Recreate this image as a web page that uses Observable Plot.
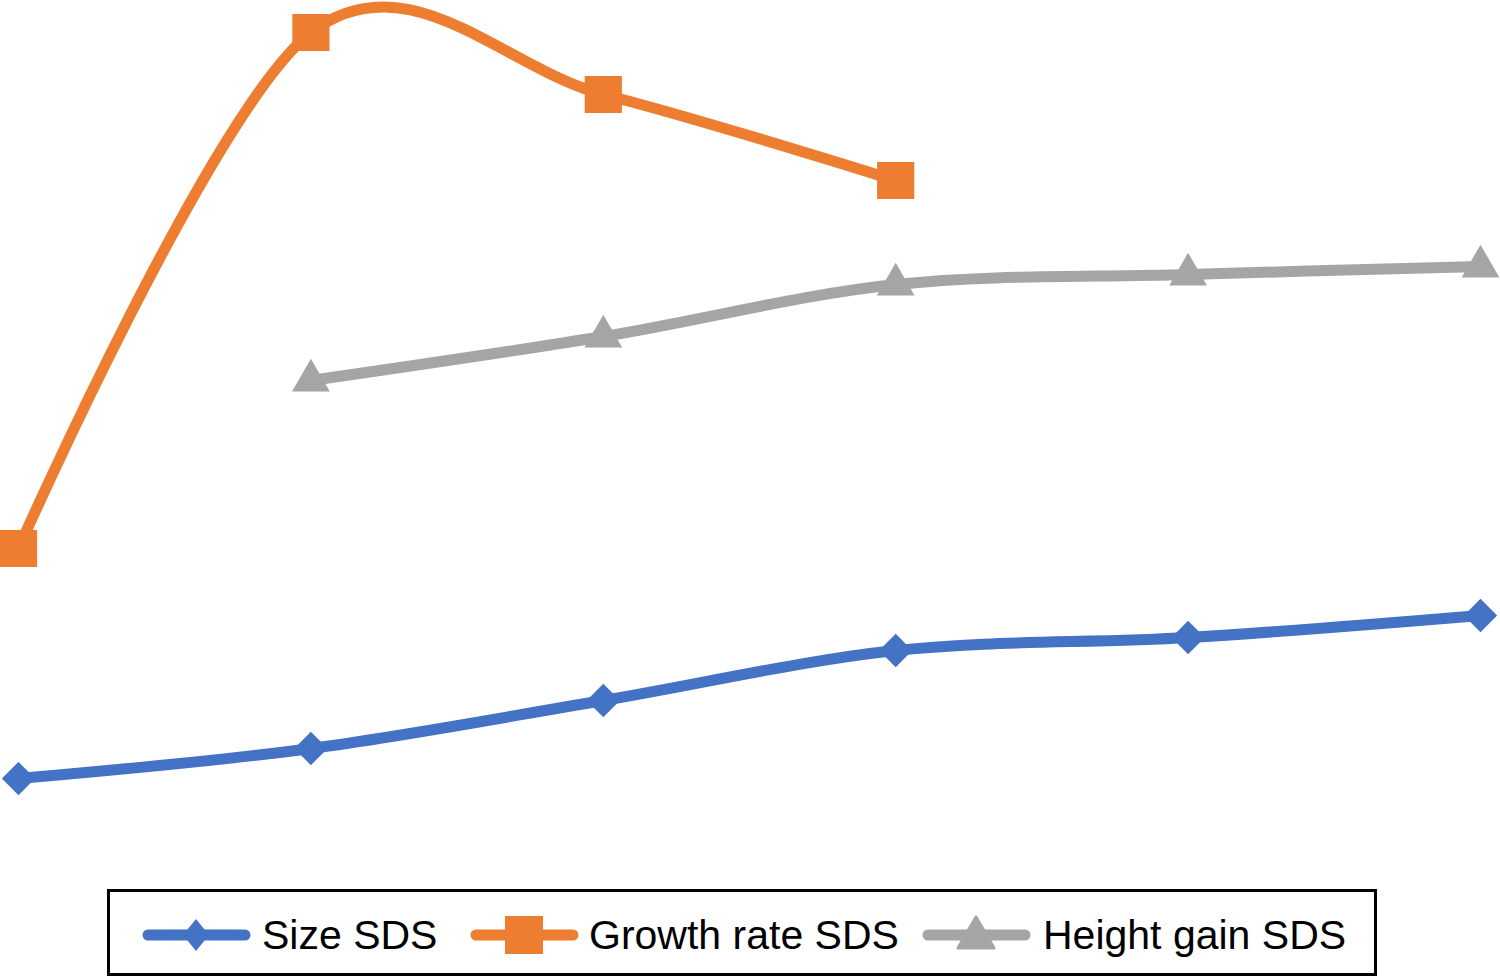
<!DOCTYPE html>
<html>
<head>
<meta charset="utf-8">
<script src="https://cdn.jsdelivr.net/npm/d3@7"></script>
<script src="https://cdn.jsdelivr.net/npm/@observablehq/plot@0.6"></script>
<style>
  body { margin: 0; background: #fff; font-family: "Liberation Sans", Arial, sans-serif; }
  #wrap { position: relative; width: 1500px; height: 976px; }
  #chart { position: absolute; left: 0; top: 0; }
  #legend { position: absolute; left: 107px; top: 889px; width: 1270px; height: 87px; border: 3px solid #000; box-sizing: border-box; }
  .item { position: absolute; top: 0; height: 81px; }
  .item svg { position: absolute; top: 0; }
  .item span { position: absolute; top: 20px; font-size: 41px; line-height: 46px; white-space: nowrap; color: #000; }
</style>
</head>
<body>
<div id="wrap">
  <div id="chart"></div>
  <div id="legend"></div>
</div>
<script>
// time points (equally spaced visits)
const steps = [0, 1, 2, 3, 4, 5];

// SDS values
const sizeSDS = [-2.89, -2.74, -2.50, -2.25, -2.185, -2.075];
const growthSDS = [-1.74, 0.84, 0.53, 0.10, null, null];
const gainSDS = [null, -0.90, -0.68, -0.42, -0.37, -0.33];

const seriesNames = ["Size SDS", "Growth rate SDS", "Height gain SDS"];
const seriesColors = ["#4472C4", "#ED7D31", "#A5A5A5"];
const seriesSymbols = ["diamond2", "square", "triangle"];
const seriesValues = [sizeSDS, growthSDS, gainSDS];

const rows = [];
seriesNames.forEach((name, i) => {
  steps.forEach((s, j) => {
    if (seriesValues[i][j] != null) rows.push({ series: name, step: s, value: seriesValues[i][j] });
  });
});

const markR = { "Size SDS": 15, "Growth rate SDS": 21, "Height gain SDS": 14 };

const marks = [];
seriesNames.forEach((name, i) => {
  const d = rows.filter((r) => r.series === name);
  marks.push(
    Plot.line(d, {
      x: "step",
      y: "value",
      stroke: seriesColors[i],
      strokeWidth: 11,
      curve: "cardinal",
      strokeLinejoin: "round",
      strokeLinecap: "round",
    })
  );
});
seriesNames.forEach((name, i) => {
  const d = rows.filter((r) => r.series === name);
  marks.push(
    Plot.dot(d, {
      x: "step",
      y: "value",
      symbol: () => seriesSymbols[i],
      r: markR[name],
      fill: seriesColors[i],
      stroke: "none",
    })
  );
});

const plot = Plot.plot({
  width: 1500,
  height: 880,
  marginLeft: 18,
  marginRight: 20,
  marginTop: 0,
  marginBottom: 0,
  x: { domain: [0, 5], axis: null },
  y: { domain: [-3.4, 1], axis: null },
  symbol: { type: "identity" },
  marks,
});
document.querySelector("#chart").append(plot);

// legend
const legendPos = [
  { sw: 29, tx: 152 },
  { sw: 357, tx: 479 },
  { sw: 809, tx: 933 },
];
const legendShapes = [
  (c) => `<path d="M57,27 L70,43 L57,59 L44,43 Z" fill="${c}"/>`,
  (c) => `<rect x="38" y="24" width="38" height="38" fill="${c}"/>`,
  (c) => `<path d="M57,25 L75,56 L39,56 Z" fill="${c}" stroke="${c}" stroke-width="3" stroke-linejoin="round"/>`,
];
let legendHtml = "";
seriesNames.forEach((name, i) => {
  const p = legendPos[i];
  legendHtml += `<div class="item" style="left:${p.sw}px">
    <svg width="116" height="81" style="left:0">
      <line x1="9" y1="43" x2="106" y2="43" stroke="${seriesColors[i]}" stroke-width="11" stroke-linecap="round"/>
      ${legendShapes[i](seriesColors[i])}
    </svg>
  </div>
  <div class="item" style="left:${p.tx}px"><span>${name}</span></div>`;
});
document.querySelector("#legend").innerHTML = legendHtml;
</script>
</body>
</html>
